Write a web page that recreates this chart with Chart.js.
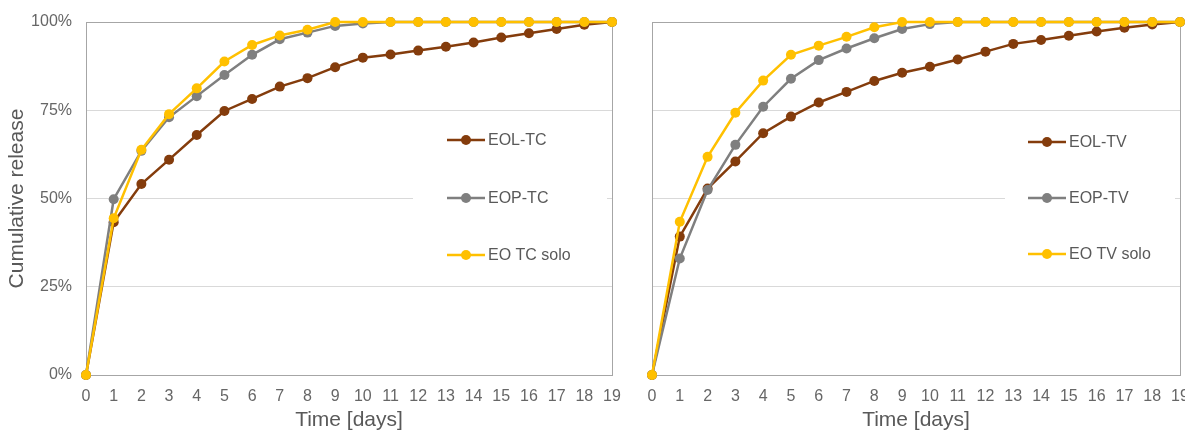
<!DOCTYPE html>
<html>
<head>
<meta charset="utf-8">
<script src="https://cdn.jsdelivr.net/npm/chart.js@4"></script>
<style>
  html, body { margin: 0; padding: 0; background: #fff; overflow: hidden; width: 1185px; height: 430px; }
  .box { position: absolute; top: 0; height: 430px; }
  #leftBox { left: 0; width: 625px; }
  #rightBox { left: 630px; width: 565px; }
</style>
</head>
<body>
<div class="box" id="leftBox"><canvas id="chartTC"></canvas></div>
<div class="box" id="rightBox"><canvas id="chartTV"></canvas></div>
<script>
var days = ["0","1","2","3","4","5","6","7","8","9","10","11","12","13","14","15","16","17","18","19"];
var yTicks = [0, 25, 50, 75, 100];

var eolTC  = [0, 43.3, 54.1, 61.0, 68.0, 74.8, 78.2, 81.7, 84.1, 87.2, 89.9, 90.8, 91.9, 93.0, 94.2, 95.6, 96.8, 98.0, 99.2, 100];
var eopTC  = [0, 49.8, 63.5, 73.0, 79.0, 85.0, 90.7, 95.1, 97.0, 98.9, 99.6, 100, 100, 100, 100, 100, 100, 100, 100, 100];
var soloTC = [0, 44.4, 63.8, 73.9, 81.2, 88.8, 93.5, 96.2, 97.8, 100, 100, 100, 100, 100, 100, 100, 100, 100, 100, 100];

var eolTV  = [0, 39.2, 52.8, 60.5, 68.5, 73.2, 77.2, 80.2, 83.3, 85.6, 87.3, 89.4, 91.6, 93.8, 94.9, 96.1, 97.3, 98.4, 99.3, 100];
var eopTV  = [0, 33.0, 52.4, 65.2, 76.0, 83.9, 89.2, 92.5, 95.4, 98.0, 99.4, 100, 100, 100, 100, 100, 100, 100, 100, 100];
var soloTV = [0, 43.4, 61.8, 74.3, 83.4, 90.7, 93.3, 95.8, 98.5, 100, 100, 100, 100, 100, 100, 100, 100, 100, 100, 100];

var namesTC = ["EOL-TC", "EOP-TC", "EO TC solo"];
var namesTV = ["EOL-TV", "EOP-TV", "EO TV solo"];
var colors = ["#843C0C", "#7F7F7F", "#FFC000"];
var textColor = "#666666";

// white legend box inside plot, plot frame
var framePlugin = {
  id: "frameLegend",
  beforeDatasetsDraw: function(chart, args, opts) {
    var ctx = chart.ctx, a = chart.chartArea;
    ctx.save();
    ctx.fillStyle = "#fff";
    ctx.fillRect(opts.boxLeft, 118, opts.boxRight - opts.boxLeft, 160);
    ctx.strokeStyle = "#A6A6A6";
    ctx.lineWidth = 1;
    ctx.strokeRect(Math.round(a.left) + 0.5, Math.round(a.top) + 0.5, Math.round(a.right - a.left), Math.round(a.bottom - a.top));
    ctx.font = "16px 'Liberation Sans', Arial, sans-serif";
    ctx.textBaseline = "middle";
    chart.data.datasets.forEach(function(ds, i) {
      var y = opts.rows[i];
      var x = opts.x;
      ctx.strokeStyle = ds.borderColor;
      ctx.lineWidth = 2.5;
      ctx.beginPath();
      ctx.moveTo(x, y);
      ctx.lineTo(x + 38, y);
      ctx.stroke();
      ctx.fillStyle = ds.borderColor;
      ctx.beginPath();
      ctx.arc(x + 19, y, 5, 0, Math.PI * 2);
      ctx.fill();
      ctx.fillStyle = "#595959";
      ctx.fillText(ds.label, x + 41, y + 1);
    });
    ctx.restore();
  }
};

function makeDatasets(names, series) {
  return series.map(function(vals, i) {
    return {
      label: names[i],
      data: vals,
      borderColor: colors[i],
      backgroundColor: colors[i],
      borderWidth: 2.5,
      pointRadius: 5,
      pointHoverRadius: 5,
      pointBorderWidth: 0,
      tension: 0,
      clip: false,
      order: 3 - i
    };
  });
}

function makeChart(id, names, series, isLeft, legendOpts) {
  return new Chart(id, {
    type: "line",
    data: { labels: days, datasets: makeDatasets(names, series) },
    options: {
      responsive: true,
      maintainAspectRatio: false,
      animation: false,
      layout: { padding: { top: 22, bottom: 0, left: 0, right: isLeft ? 13 : 15 } },
      plugins: {
        legend: { display: false },
        tooltip: { enabled: false },
        frameLegend: legendOpts
      },
      scales: {
        x: {
          grid: { display: false, drawTicks: false },
          border: { display: false },
          ticks: { color: textColor, font: { size: 16, family: "'Liberation Sans', Arial" }, padding: 12, maxRotation: 0, autoSkip: false },
          title: { display: true, text: "Time [days]", color: "#595959", font: { size: 21, family: "'Liberation Sans', Arial" }, padding: { top: 0, bottom: -3 } },
          afterFit: function(s) { s.height = 55; s.paddingLeft = 0; s.paddingRight = 0; }
        },
        y: {
          min: 0, max: 100,
          afterBuildTicks: function(s) { s.ticks = yTicks.map(function(v) { return { value: v }; }); },
          grid: { color: "#D9D9D9", lineWidth: 1, drawTicks: false },
          border: { display: false },
          ticks: {
            display: isLeft,
            color: textColor,
            font: { size: 16, family: "'Liberation Sans', Arial" },
            padding: 14,
            callback: function(v) { return v + "%"; }
          },
          title: { display: isLeft, text: "Cumulative release", color: "#595959", font: { size: 21, family: "'Liberation Sans', Arial" }, padding: { top: 5, bottom: 0 } },
          afterFit: function(s) { s.width = isLeft ? 86 : 22; s.paddingTop = 0; s.paddingBottom = 0; }
        }
      }
    },
    plugins: [framePlugin]
  });
}

makeChart("chartTC", namesTC, [eolTC, eopTC, soloTC], true, { boxLeft: 413, boxRight: 607, x: 447, rows: [140, 198, 255] });
makeChart("chartTV", namesTV, [eolTV, eopTV, soloTV], false, { boxLeft: 375, boxRight: 545, x: 398, rows: [142, 198, 254] });
</script>
</body>
</html>
